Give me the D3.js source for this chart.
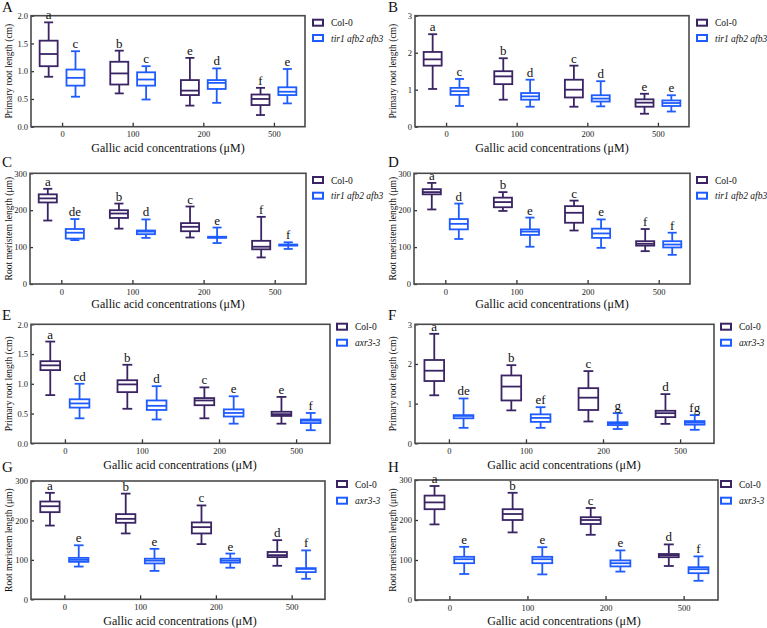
<!DOCTYPE html>
<html><head><meta charset="utf-8">
<script src="https://cdn.jsdelivr.net/npm/d3@7"></script>
<style>body{margin:0;background:#fff}svg{display:block}svg text{font-family:"Liberation Serif","Times New Roman",Tinos,serif}</style>
</head><body>
<svg id="chart" width="767" height="628"></svg>
<script>
// ---------- DATA ----------
const categories = ["0", "100", "200", "500"];
// each box: [min, q1, median, q3, max]
const A_col0 = [[0.90,1.09,1.31,1.55,1.88],[0.60,0.76,0.96,1.17,1.37],[0.38,0.57,0.65,0.84,1.24],[0.21,0.39,0.50,0.58,0.70]];
const A_mut  = [[0.54,0.74,0.88,1.03,1.36],[0.49,0.74,0.85,0.98,1.09],[0.43,0.68,0.79,0.84,1.05],[0.42,0.57,0.63,0.71,1.04]];
const A_letters = [["a","c"],["b","c"],["e","d"],["f","e"]];

const B_col0 = [[1.02,1.65,1.82,2.02,2.50],[0.73,1.15,1.36,1.50,1.85],[0.54,0.79,1.00,1.27,1.65],[0.35,0.54,0.65,0.74,0.89]];
const B_mut  = [[0.56,0.86,0.96,1.05,1.29],[0.54,0.73,0.82,0.91,1.27],[0.55,0.68,0.76,0.85,1.23],[0.41,0.56,0.64,0.71,0.85]];
const B_letters = [["a","c"],["b","d"],["c","d"],["e","e"]];

const C_col0 = [[172,221,232,243,258],[150,179,191,200,218],[126,143,155,165,210],[72,94,101,117,182]];
const C_mut  = [[119,123,139,149,176],[125,135,142,145,175],[111,125,127,128,153],[95,104,106,107,113]];
const C_letters = [["a","de"],["b","d"],["c","e"],["f","f"]];

const D_col0 = [[202,243,249,257,274],[198,208,222,234,249],[145,166,193,211,226],[89,104,109,116,149]];
const D_mut  = [[122,148,163,176,218],[101,133,142,148,180],[98,125,137,150,175],[79,99,107,116,139]];
const D_letters = [["a","d"],["b","e"],["c","e"],["f","f"]];

const E_col0 = [[0.81,1.23,1.31,1.38,1.71],[0.58,0.86,0.99,1.06,1.32],[0.42,0.64,0.72,0.76,0.94],[0.33,0.46,0.49,0.53,0.78]];
const E_mut  = [[0.42,0.60,0.67,0.74,1.00],[0.40,0.56,0.63,0.72,0.96],[0.33,0.45,0.51,0.57,0.79],[0.22,0.34,0.38,0.40,0.51]];
const E_letters = [["a","cd"],["b","d"],["c","e"],["e","f"]];

const F_col0 = [[1.21,1.57,1.83,2.10,2.76],[0.83,1.08,1.43,1.71,1.97],[0.55,0.84,1.15,1.39,1.82],[0.49,0.66,0.76,0.82,1.24]];
const F_mut  = [[0.39,0.63,0.69,0.71,1.13],[0.39,0.54,0.64,0.73,0.91],[0.36,0.46,0.50,0.53,0.76],[0.34,0.47,0.52,0.56,0.71]];
const F_letters = [["a","de"],["b","ef"],["c","g"],["d","fg"]];

const G_col0 = [[187,221,236,248,270],[167,194,204,216,268],[140,167,183,195,238],[85,107,112,120,150]];
const G_mut  = [[83,95,100,105,137],[72,91,98,103,128],[80,93,98,103,116],[52,69,77,79,124]];
const G_letters = [["a","e"],["b","e"],["c","e"],["d","f"]];

const H_col0 = [[189,227,244,261,285],[169,200,215,227,268],[163,190,200,207,230],[85,107,112,115,139]];
const H_mut  = [[65,92,102,108,133],[64,92,102,108,132],[71,84,92,99,124],[48,67,77,82,109]];
const H_letters = [["a","e"],["b","e"],["c","e"],["d","f"]];

const seriesNames1 = ["Col-0", "tir1 afb2 afb3"];
const seriesNames2 = ["Col-0", "axr3-3"];
const ticksRoot2 = [0, 0.5, 1.0, 1.5, 2.0];
const ticksRoot3 = [0, 1, 2, 3];
const ticksMer = [0, 100, 200, 300];
const yTitleRoot = "Primary root length (cm)";
const yTitleMer = "Root meristem length (μm)";
const xTitle = "Gallic acid concentrations (μM)";

// ---------- LAYOUT ----------
const colors = ["#3a2464", "#1f5cff"];
const FONT = "'Liberation Serif','Times New Roman',Tinos,serif";
const panels = [
  {lab:"A", lx:2, ly:12, x0:31, x1:305, y0:15.7, y1:126.7, max:2, ticks:ticksRoot2, fmt:".1f", c0:A_col0, c1:A_mut, L:A_letters, names:seriesNames1, yt:yTitleRoot, ytx:9, legx:313, legy:[22.7,38], xtx:168, xty:152},
  {lab:"B", lx:388, ly:12, x0:415, x1:689, y0:15.7, y1:126.7, max:3, ticks:ticksRoot3, fmt:"d", c0:B_col0, c1:B_mut, L:B_letters, names:seriesNames1, yt:yTitleRoot, ytx:393, legx:697, legy:[22.7,38], xtx:552, xty:152},
  {lab:"C", lx:2, ly:167, x0:30, x1:306, y0:173.3, y1:284, max:300, ticks:ticksMer, fmt:"d", c0:C_col0, c1:C_mut, L:C_letters, names:seriesNames1, yt:yTitleMer, ytx:9, legx:313, legy:[180,195.7], xtx:168, xty:308},
  {lab:"D", lx:388, ly:167, x0:414, x1:690, y0:173.3, y1:284, max:300, ticks:ticksMer, fmt:"d", c0:D_col0, c1:D_mut, L:D_letters, names:seriesNames1, yt:yTitleMer, ytx:393, legx:697, legy:[180,195.7], xtx:552, xty:308},
  {lab:"E", lx:2, ly:320, x0:31, x1:330, y0:324.3, y1:443.3, max:2, ticks:ticksRoot2, fmt:".1f", c0:E_col0, c1:E_mut, L:E_letters, names:seriesNames2, yt:yTitleRoot, ytx:9, legx:337, legy:[326.7,342.7], xtx:180, xty:469},
  {lab:"F", lx:388, ly:320, x0:415, x1:714, y0:324.3, y1:443.3, max:3, ticks:ticksRoot3, fmt:"d", c0:F_col0, c1:F_mut, L:F_letters, names:seriesNames2, yt:yTitleRoot, ytx:393, legx:721, legy:[326.7,342.7], xtx:564, xty:469},
  {lab:"G", lx:2, ly:472, x0:31, x1:325, y0:481, y1:599.3, max:300, ticks:ticksMer, fmt:"d", c0:G_col0, c1:G_mut, L:G_letters, names:seriesNames2, yt:yTitleMer, ytx:9, legx:337, legy:[484,500.7], xtx:180, xty:625},
  {lab:"H", lx:388, ly:472, x0:415, x1:718, y0:480, y1:600, max:300, ticks:ticksMer, fmt:"d", c0:H_col0, c1:H_mut, L:H_letters, names:seriesNames2, yt:yTitleMer, ytx:393, legx:721, legy:[484,500.7], xtx:564, xty:625}
];

const svg = d3.select("#chart");

panels.forEach(p => {
  const g = svg.append("g");
  const x = d3.scalePoint().domain(categories).range([p.x0, p.x1]).padding(0.44);
  const y = d3.scaleLinear().domain([0, p.max]).range([p.y1, p.y0]);
  const step = x.step();
  const off = step * 0.19, bw = step * 0.255, cw = bw * 0.5;

  // axes (ticks point inward)
  const ax = g.append("g").attr("transform", `translate(0,${p.y1})`)
    .call(d3.axisBottom(x).tickSize(-4).tickSizeOuter(0).tickPadding(4.5));
  const ay = g.append("g").attr("transform", `translate(${p.x0},0)`)
    .call(d3.axisLeft(y).tickValues(p.ticks).tickFormat(d3.format(p.fmt)).tickSize(-3).tickSizeOuter(0).tickPadding(3));
  [ax, ay].forEach(a => {
    a.attr("font-family", null);
    a.select(".domain").remove();
    a.selectAll("line").attr("stroke", "#333").attr("stroke-width", 1.3);
    a.selectAll("text").style("font-family", FONT).attr("font-size", 8.5).attr("fill", "#222");
  });
  // frame
  g.append("rect").attr("x", p.x0).attr("y", p.y0).attr("width", p.x1 - p.x0).attr("height", p.y1 - p.y0)
    .attr("fill", "none").attr("stroke", "#4a4a4a").attr("stroke-width", 1.6);

  // boxes
  [p.c0, p.c1].forEach((series, si) => {
    series.forEach((d, i) => {
      const cx = x(categories[i]) + (si === 0 ? -off : off);
      const col = colors[si];
      const bg = g.append("g").attr("stroke", col).attr("stroke-width", 1.8).attr("fill", "none");
      bg.append("line").attr("x1", cx).attr("x2", cx).attr("y1", y(d[0])).attr("y2", y(d[1]));
      bg.append("line").attr("x1", cx).attr("x2", cx).attr("y1", y(d[3])).attr("y2", y(d[4]));
      bg.append("line").attr("x1", cx - cw / 2).attr("x2", cx + cw / 2).attr("y1", y(d[0])).attr("y2", y(d[0]));
      bg.append("line").attr("x1", cx - cw / 2).attr("x2", cx + cw / 2).attr("y1", y(d[4])).attr("y2", y(d[4]));
      bg.append("rect").attr("x", cx - bw / 2).attr("width", bw).attr("y", y(d[3]))
        .attr("height", Math.max(0.5, y(d[1]) - y(d[3]))).attr("fill", "#fff");
      bg.append("line").attr("x1", cx - bw / 2).attr("x2", cx + bw / 2).attr("y1", y(d[2])).attr("y2", y(d[2]));
      g.append("text").attr("x", cx).attr("y", y(d[4]) - 3).attr("text-anchor", "middle")
        .style("font-family", FONT).attr("font-size", 13).attr("fill", "#111").text(p.L[i][si]);
    });
  });

  // legend
  p.names.forEach((n, si) => {
    g.append("rect").attr("x", p.legx).attr("y", p.legy[si] - 3).attr("width", 10).attr("height", 6)
      .attr("fill", "#fff").attr("stroke", colors[si]).attr("stroke-width", 2);
    g.append("text").attr("x", p.legx + 18).attr("y", p.legy[si] + 3.5)
      .style("font-family", FONT).attr("font-size", 9.5).attr("fill", "#111")
      .attr("font-style", si === 1 ? "italic" : "normal").text(n);
  });

  // titles
  g.append("text").attr("transform", `translate(${p.ytx},${(p.y0 + p.y1) / 2}) rotate(-90)`)
    .attr("text-anchor", "middle").attr("dy", "0.35em").style("font-family", FONT).attr("font-size", 9.5)
    .attr("fill", "#111").text(p.yt);
  g.append("text").attr("x", p.xtx).attr("y", p.xty).attr("text-anchor", "middle")
    .style("font-family", FONT).attr("font-size", 12).attr("fill", "#111").text(xTitle);
  g.append("text").attr("x", p.lx).attr("y", p.ly).style("font-family", FONT).attr("font-size", 15)
    .attr("fill", "#111").text(p.lab);
});
</script>
</body></html>
